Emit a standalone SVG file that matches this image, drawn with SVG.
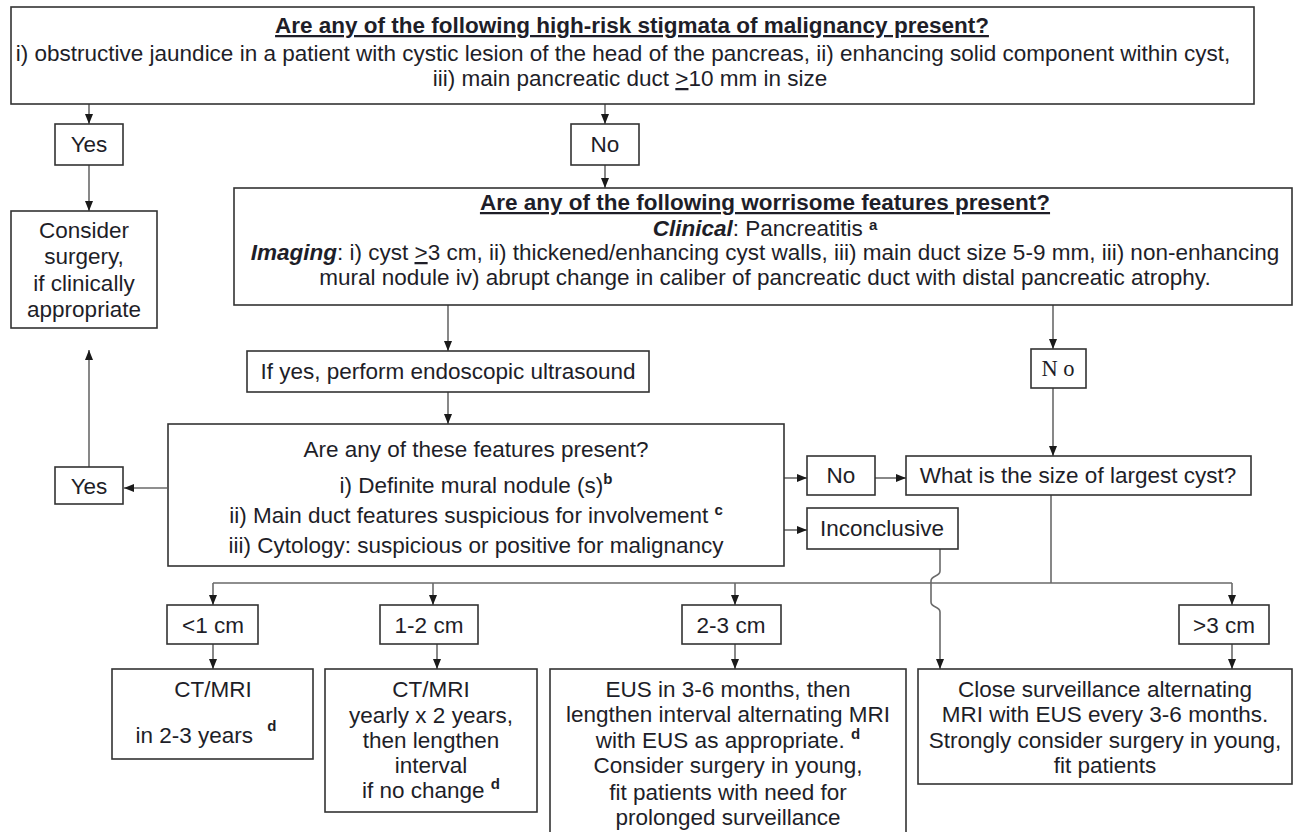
<svg xmlns="http://www.w3.org/2000/svg" width="1295" height="832" viewBox="0 0 1295 832">
<defs>
<style>
text{font-family:"Liberation Sans",Arial,Helvetica,sans-serif;font-size:22.5px;fill:#1e1e28;text-anchor:middle}
.box{fill:#fff;stroke:#333;stroke-width:1.6}
.b{font-weight:bold}
.bi{font-weight:bold;font-style:italic}
.u{text-decoration:underline}
.sup{font-weight:bold;font-size:15px}
.serif{font-family:"Liberation Serif","Times New Roman",serif}
.con{fill:none;stroke:#6a6a6a;stroke-width:1.6}
</style>
<marker id="ah" viewBox="0 0 10 8" refX="10" refY="4" markerWidth="10" markerHeight="8" markerUnits="userSpaceOnUse" orient="auto">
<path d="M0,0 L10,4 L0,8 z" fill="#1a1a1a"/>
</marker>
</defs>
<rect width="1295" height="832" fill="#fff"/>

<g id="connectors">
<path class="con" d="M89,104 V124" marker-end="url(#ah)"/>
<path class="con" d="M605,104 V124" marker-end="url(#ah)"/>
<path class="con" d="M89,165 V211" marker-end="url(#ah)"/>
<path class="con" d="M605,165 V188" marker-end="url(#ah)"/>
<path class="con" d="M448,305 V351" marker-end="url(#ah)"/>
<path class="con" d="M1053,305 V349" marker-end="url(#ah)"/>
<path class="con" d="M448,392 V424" marker-end="url(#ah)"/>
<path class="con" d="M1053,388 V456" marker-end="url(#ah)"/>
<path class="con" d="M167,488 H124" marker-end="url(#ah)"/>
<path class="con" d="M89,467 V350" marker-end="url(#ah)"/>
<path class="con" d="M784,478 H807" marker-end="url(#ah)"/>
<path class="con" d="M875,478 H906" marker-end="url(#ah)"/>
<path class="con" d="M784,530 H807" marker-end="url(#ah)"/>
<path class="con" d="M1051,495 V583 M213,583 H1232"/>
<path class="con" d="M213,583 V605" marker-end="url(#ah)"/>
<path class="con" d="M433,583 V605" marker-end="url(#ah)"/>
<path class="con" d="M735,583 V605" marker-end="url(#ah)"/>
<path class="con" d="M1232,583 V605" marker-end="url(#ah)"/>
<path class="con" d="M213,644 V669" marker-end="url(#ah)"/>
<path class="con" d="M437,644 V669" marker-end="url(#ah)"/>
<path class="con" d="M735,644 V669" marker-end="url(#ah)"/>
<path class="con" d="M1232,644 V669" marker-end="url(#ah)"/>
<path class="con" d="M940,549 V571 C940,577 931,575 931,581 V602 C931,608 940,606 940,612 V669" marker-end="url(#ah)"/>
</g>

<g id="n-highrisk">
<rect class="box" x="11" y="7" width="1243" height="97" stroke-width="2"/>
<text x="632" y="33" class="b u">Are any of the following high-risk stigmata of malignancy present?</text>
<text x="623" y="61">i) obstructive jaundice in a patient with cystic lesion of the head of the pancreas, ii) enhancing solid component within cyst,</text>
<text x="630" y="86">iii) main pancreatic duct <tspan class="u">&gt;</tspan>10 mm in size</text>
</g>

<g id="n-yes1">
<rect class="box" x="55" y="124" width="68" height="41"/>
<text x="89" y="152">Yes</text>
</g>

<g id="n-no1">
<rect class="box" x="571" y="124" width="68" height="41"/>
<text x="605" y="152">No</text>
</g>

<g id="n-consider">
<rect class="box" x="11" y="211" width="146" height="117"/>
<text x="84" y="238">Consider</text>
<text x="84" y="264">surgery,</text>
<text x="84" y="291">if clinically</text>
<text x="84" y="317">appropriate</text>
</g>

<g id="n-worrisome">
<rect class="box" x="234" y="188" width="1058" height="117"/>
<text x="765" y="210" class="b u">Are any of the following worrisome features present?</text>
<text x="765" y="236"><tspan class="bi">Clinical</tspan>: Pancreatitis <tspan class="sup" font-size="14" dy="-6">a</tspan></text>
<text x="765" y="260"><tspan class="bi">Imaging</tspan>: i) cyst <tspan class="u">&gt;</tspan>3 cm, ii) thickened/enhancing cyst walls, iii) main duct size 5-9 mm, iii) non-enhancing</text>
<text x="765" y="285">mural nodule iv) abrupt change in caliber of pancreatic duct with distal pancreatic atrophy.</text>
</g>

<g id="n-eus">
<rect class="box" x="247" y="351" width="402" height="41"/>
<text x="448" y="379">If yes, perform endoscopic ultrasound</text>
</g>

<g id="n-no2">
<rect class="box" x="1031" y="349" width="55" height="39"/>
<text x="1058" y="376" class="serif">N o</text>
</g>

<g id="n-features">
<rect class="box" x="168" y="424" width="616" height="142"/>
<text x="476" y="457">Are any of these features present?</text>
<text x="476" y="493">i) Definite mural nodule (s)<tspan class="sup" dy="-9">b</tspan></text>
<text x="476" y="523">ii) Main duct features suspicious for involvement <tspan class="sup" dy="-8">c</tspan></text>
<text x="476" y="553">iii) Cytology: suspicious or positive for malignancy</text>
</g>

<g id="n-yes2">
<rect class="box" x="55" y="467" width="68" height="37"/>
<text x="89" y="494">Yes</text>
</g>

<g id="n-no3">
<rect class="box" x="807" y="456" width="68" height="39"/>
<text x="841" y="483">No</text>
</g>

<g id="n-size">
<rect class="box" x="906" y="456" width="345" height="39"/>
<text x="1078" y="483">What is the size of largest cyst?</text>
</g>

<g id="n-inconclusive">
<rect class="box" x="807" y="508" width="151" height="41"/>
<text x="882" y="536">Inconclusive</text>
</g>

<g id="n-lt1">
<rect class="box" x="167" y="605" width="91" height="39"/>
<text x="213" y="633">&lt;1 cm</text>
</g>

<g id="n-1to2">
<rect class="box" x="380" y="605" width="98" height="39"/>
<text x="429" y="633">1-2 cm</text>
</g>

<g id="n-2to3">
<rect class="box" x="682" y="605" width="99" height="39"/>
<text x="731" y="633">2-3 cm</text>
</g>

<g id="n-gt3">
<rect class="box" x="1179" y="605" width="90" height="39"/>
<text x="1224" y="633">&gt;3 cm</text>
</g>

<g id="n-ctmri1">
<rect class="box" x="112" y="669" width="201" height="90"/>
<text x="213" y="697">CT/MRI</text>
<text x="206" y="743">in 2-3 years <tspan class="sup" dx="8" dy="-12">d</tspan></text>
</g>

<g id="n-ctmri2">
<rect class="box" x="325" y="669" width="212" height="143"/>
<text x="431" y="697">CT/MRI</text>
<text x="431" y="723">yearly x 2 years,</text>
<text x="431" y="748">then lengthen</text>
<text x="431" y="773">interval</text>
<text x="431" y="798">if no change <tspan class="sup" dy="-9">d</tspan></text>
</g>

<g id="n-eus-followup">
<rect class="box" x="550" y="669" width="356" height="175"/>
<text x="728" y="697">EUS in 3-6 months, then</text>
<text x="728" y="722">lengthen interval alternating MRI</text>
<text x="728" y="748">with EUS as appropriate. <tspan class="sup" dy="-9">d</tspan></text>
<text x="728" y="773">Consider surgery in young,</text>
<text x="728" y="800">fit patients with need for</text>
<text x="728" y="825">prolonged surveillance</text>
</g>

<g id="n-close">
<rect class="box" x="918" y="669" width="374" height="115"/>
<text x="1105" y="697">Close surveillance alternating</text>
<text x="1105" y="722">MRI with EUS every 3-6 months.</text>
<text x="1105" y="748">Strongly consider surgery in young,</text>
<text x="1105" y="773">fit patients</text>
</g>
</svg>
